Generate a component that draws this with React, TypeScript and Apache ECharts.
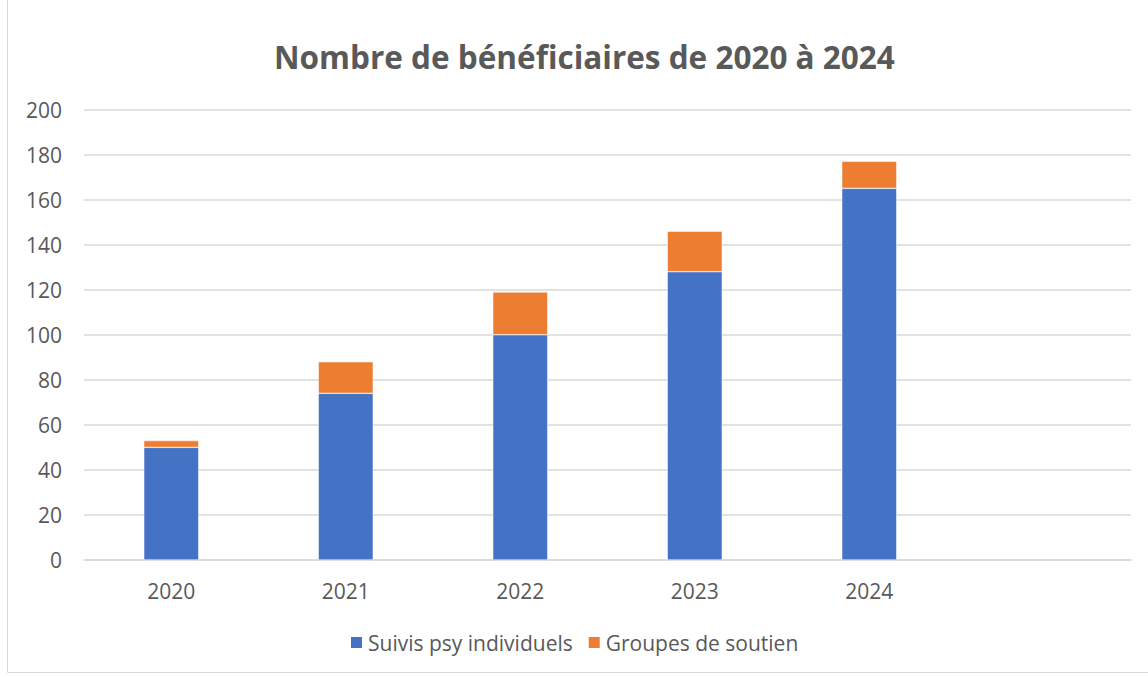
import React, { useEffect, useRef } from "react";
import * as echarts from "echarts";

const categories = ["2020", "2021", "2022", "2023", "2024", ""];
const suivisPsy = [50, 74, 100, 128, 165, null];
const groupesSoutien = [3, 14, 19, 18, 12, null];
const seriesNames = ["Suivis psy individuels", "Groupes de soutien"];
const titleText = "Nombre de bénéficiaires de 2020 à 2024";

export default function App() {
  const ref = useRef<HTMLDivElement>(null);
  useEffect(() => {
    document.body.style.margin = "0";
    const chart = echarts.init(ref.current!, null, { renderer: "svg" });
    const font = "'Open Sans', Lato, sans-serif";
    chart.setOption({
      animation: false,
      backgroundColor: "#ffffff",
      title: {
        text: titleText,
        left: 269,
        top: 35,
        textStyle: { fontFamily: font, fontSize: 31.5, fontWeight: "bold", color: "#595959" },
      },
      graphic: [
        {
          type: "rect",
          shape: { x: 7.5, y: -5, width: 1200, height: 677.5 },
          style: { fill: "none", stroke: "#d9d9d9", lineWidth: 1 },
          silent: true,
        },
      ],
      legend: {
        bottom: 19,
        left: 344,
        itemWidth: 13,
        itemHeight: 13,
        itemGap: 14,
        itemTextGap: 6,
        icon: "rect",
        textStyle: { fontFamily: font, fontSize: 21, color: "#595959" },
        data: seriesNames,
      },
      grid: { left: 84, right: 17, top: 109.5, bottom: 117, containLabel: false },
      xAxis: {
        type: "category",
        data: categories,
        axisLine: { show: true, lineStyle: { color: "#d9d9d9", width: 1.5 } },
        axisTick: { show: false },
        axisLabel: { fontFamily: font, fontSize: 21, color: "#595959", margin: 20 },
      },
      yAxis: {
        type: "value",
        min: 0,
        max: 200,
        interval: 20,
        axisLine: { show: false },
        axisTick: { show: false },
        splitLine: { lineStyle: { color: "#d9d9d9", width: 1.5 } },
        axisLabel: { fontFamily: font, fontSize: 21, color: "#595959", margin: 22 },
      },
      series: [
        {
          name: seriesNames[0],
          type: "bar",
          stack: "total",
          data: suivisPsy,
          barWidth: "31.5%",
          itemStyle: { color: "#4472c4", borderColor: "#ffffff", borderWidth: 0.5 },
        },
        {
          name: seriesNames[1],
          type: "bar",
          stack: "total",
          data: groupesSoutien,
          barWidth: "31.5%",
          itemStyle: { color: "#ed7d31", borderColor: "#ffffff", borderWidth: 0.5 },
        },
      ],
    });
    return () => chart.dispose();
  }, []);
  return <div ref={ref} style={{ width: 1148, height: 677 }} />;
}
